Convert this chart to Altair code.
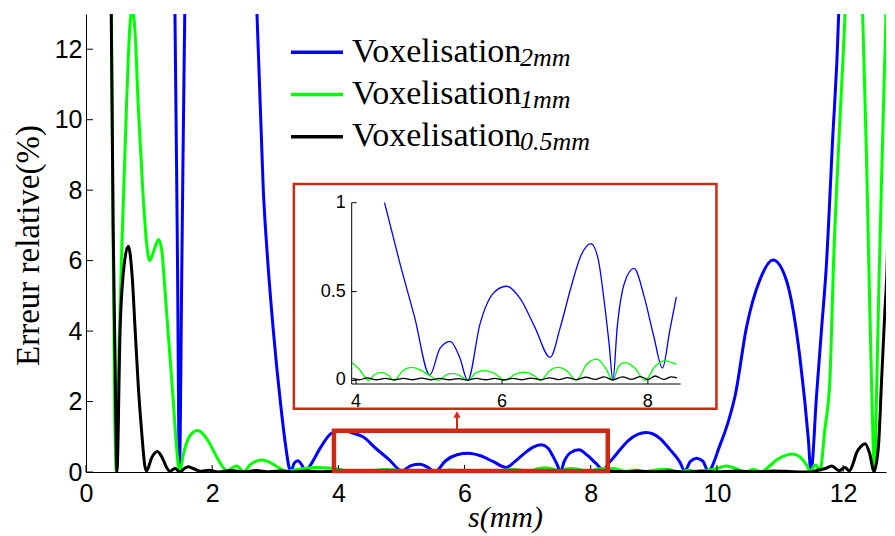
import altair as alt
import pandas as pd

# ---------------- data ----------------
names = ["Voxelisation_2mm", "Voxelisation_1mm", "Voxelisation_0.5mm"]
colors = ["#0000ff", "#00ff00", "#000000"]
legend_main = ["Voxelisation", "Voxelisation", "Voxelisation"]
legend_sub = ["2mm", "1mm", "0.5mm"]

blue = [(1.39, 15), (1.41, 13), (1.45, 6), (1.48, 0), (1.52, 6), (1.565, 13), (1.60, 15),
        (2.68, 15), (2.71, 13), (2.81, 8), (2.88, 6), (2.97, 4), (3.08, 2), (3.16, 0.8),
        (3.22, 0.12), (3.25, 0.02), (3.30, 0.25), (3.36, 0.32), (3.42, 0.2), (3.48, 0.02),
        (3.56, 0.2), (3.71, 0.67), (3.89, 1.1), (4.05, 1.18), (4.2, 1.12), (4.39, 1.0),
        (4.6, 0.66), (4.8, 0.36), (5.01, 0.03), (5.15, 0.18), (5.29, 0.22), (5.42, 0.13),
        (5.53, 0.0), (5.7, 0.32), (5.88, 0.49), (6.06, 0.53), (6.25, 0.46), (6.45, 0.3),
        (6.66, 0.13), (6.8, 0.3), (6.95, 0.53), (7.08, 0.7), (7.22, 0.77), (7.32, 0.68),
        (7.40, 0.45), (7.47, 0.2), (7.52, 0.0), (7.58, 0.3), (7.68, 0.55), (7.81, 0.63),
        (7.95, 0.47), (8.08, 0.25), (8.20, 0.07), (8.30, 0.28), (8.39, 0.47), (8.6, 0.9),
        (8.88, 1.12), (9.1, 0.95), (9.25, 0.65), (9.41, 0.29), (9.49, 0.03), (9.58, 0.3),
        (9.68, 0.39), (9.78, 0.3), (9.86, 0.03), (10.05, 0.77), (10.18, 1.43), (10.29, 2.18),
        (10.47, 4.12), (10.68, 5.45), (10.89, 6.02), (11.10, 5.45), (11.32, 3.18),
        (11.45, 0.91), (11.49, 0.0), (11.58, 2.2), (11.66, 4.1), (11.73, 5.73), (11.83, 9.3),
        (11.93, 13), (11.96, 15)]

green = [(0.40, 14), (0.48, 0), (0.53, 4.0), (0.57, 6.5), (0.64, 10.3), (0.69, 12.5),
         (0.735, 13.15), (0.78, 12.4), (0.83, 10.3), (0.90, 8.0), (0.96, 6.5), (1.01, 6.0),
         (1.08, 6.3), (1.15, 6.6), (1.20, 6.3), (1.25, 5.2), (1.30, 4.0), (1.38, 2.1),
         (1.44, 0.6), (1.48, 0.0), (1.55, 0.55), (1.62, 0.95), (1.70, 1.13), (1.77, 1.18),
         (1.87, 1.05), (1.96, 0.81), (2.10, 0.34), (2.24, 0.03), (2.32, 0.12), (2.39, 0.17),
         (2.45, 0.08), (2.50, 0.0), (2.60, 0.2), (2.70, 0.31), (2.78, 0.34), (2.88, 0.3),
         (3.03, 0.15), (3.18, 0.02), (3.30, 0.06), (3.45, 0.1), (3.62, 0.13), (3.78, 0.12),
         (3.95, 0.10), (4.05, 0.06), (4.17, 0.0), (4.26, 0.035), (4.35, 0.045), (4.44, 0.03),
         (4.52, 0.0), (4.64, 0.055), (4.76, 0.073), (4.9, 0.055), (5.02, 0.025), (5.13, 0.0),
         (5.23, 0.03), (5.33, 0.04), (5.43, 0.025), (5.53, 0.0), (5.65, 0.045), (5.77, 0.055),
         (5.9, 0.04), (6.04, 0.0), (6.18, 0.035), (6.32, 0.047), (6.43, 0.03), (6.53, 0.0),
         (6.65, 0.055), (6.77, 0.073), (6.9, 0.05), (7.02, 0.0), (7.16, 0.09), (7.30, 0.12),
         (7.42, 0.07), (7.52, 0.0), (7.60, 0.08), (7.68, 0.10), (7.82, 0.07), (7.96, 0.0),
         (8.10, 0.08), (8.23, 0.11), (8.39, 0.09), (8.55, 0.02), (8.70, 0.06), (8.85, 0.0),
         (9.0, 0.05), (9.2, 0.08), (9.4, 0.0), (9.55, 0.05), (9.7, 0.0), (9.85, 0.05),
         (10.0, 0.1), (10.15, 0.17), (10.3, 0.1), (10.45, 0.0), (10.58, 0.08), (10.7, 0.0),
         (10.82, 0.15), (10.95, 0.35), (11.1, 0.48), (11.21, 0.51), (11.32, 0.42),
         (11.42, 0.2), (11.49, 0.0), (11.53, 0.15), (11.57, 0.2), (11.63, 0.0), (11.71, 1.2),
         (11.79, 2.6), (11.85, 6.0), (11.95, 10.0), (12.03, 13), (12.07, 15), (12.27, 15),
         (12.31, 13), (12.37, 9), (12.41, 5.7), (12.45, 2.6), (12.50, 0.0), (12.53, 2.2),
         (12.57, 5.5), (12.62, 9), (12.68, 13), (12.72, 15), (12.80, 16)]

black = [(0.38, 15), (0.40, 13), (0.43, 7.0), (0.46, 3.3), (0.49, 0.0), (0.54, 4.0),
         (0.60, 5.8), (0.67, 6.41), (0.73, 5.6), (0.78, 4.0), (0.83, 2.4), (0.88, 1.19),
         (0.935, 0.15), (0.96, 0.03), (1.04, 0.4), (1.13, 0.58), (1.21, 0.4), (1.28, 0.12),
         (1.33, 0.02), (1.41, 0.1), (1.49, 0.0), (1.56, 0.1), (1.62, 0.15), (1.70, 0.1),
         (1.81, 0.02), (1.95, 0.05), (2.1, 0.0), (2.3, 0.04), (2.5, 0.01), (2.7, 0.04),
         (2.9, 0.01), (3.1, 0.03), (3.3, 0.0), (3.5, 0.025), (3.7, 0.005), (3.82, 0.015),
         (3.95, 0.012), (4.05, 0.004), (4.15, 0.015), (4.28, 0.004), (4.4, 0.012),
         (4.52, 0.003), (4.65, 0.012), (4.78, 0.004), (4.9, 0.013), (5.02, 0.004),
         (5.15, 0.012), (5.28, 0.004), (5.4, 0.01), (5.53, 0.002), (5.65, 0.012),
         (5.78, 0.004), (5.9, 0.012), (6.02, 0.004), (6.15, 0.012), (6.28, 0.004),
         (6.4, 0.013), (6.53, 0.004), (6.65, 0.015), (6.78, 0.005), (6.9, 0.016),
         (7.02, 0.005), (7.15, 0.018), (7.28, 0.006), (7.4, 0.02), (7.52, 0.003),
         (7.65, 0.02), (7.78, 0.006), (7.9, 0.022), (8.0, 0.005), (8.1, 0.025),
         (8.22, 0.006), (8.32, 0.02), (8.4, 0.015), (8.55, 0.005), (8.75, 0.03),
         (9.0, 0.005), (9.25, 0.03), (9.5, 0.0), (9.75, 0.03), (10.0, 0.005), (10.3, 0.03),
         (10.6, 0.005), (10.9, 0.03), (11.2, 0.01), (11.49, 0.0), (11.6, 0.05), (11.72, 0.1),
         (11.82, 0.17), (11.94, 0.04), (12.03, 0.13), (12.1, 0.03), (12.16, 0.25),
         (12.21, 0.53), (12.28, 0.72), (12.35, 0.8), (12.42, 0.53), (12.49, 0.02),
         (12.56, 0.72), (12.61, 2.6), (12.66, 4.5), (12.70, 6.0), (12.72, 7.7), (12.75, 8.8),
         (12.78, 9.4), (12.80, 9.6)]

x_ticks = [0, 2, 4, 6, 8, 10, 12]
y_ticks = [0, 2, 4, 6, 8, 10, 12]
inset_x_ticks = [4, 6, 8]
inset_y_ticks = [0, 0.5, 1]

zoom_box = {"s": [3.93], "s2": [8.27], "e": [0.03], "e2": [1.17]}
arrow = {"s": [5.88], "e": [1.17], "e2": [1.55], "head": [1.63]}
inset_frame = {"s": [3.147], "s2": [8.94], "e": [-0.159], "e2": [1.105]}
inset_x_lim = [3.94, 8.45]
inset_y_lim = [-0.02, 1.0]

# ---------------- tables ----------------
rows = []
for n, series in zip(names, [blue, green, black]):
    for s, e in series:
        rows.append({"serie": n, "s": s, "e": e})
df = pd.DataFrame(rows)
legend_df = pd.DataFrame({"serie": names, "label": legend_main, "sub": legend_sub,
                          "i": list(range(len(names)))})
inset_axes_df = pd.DataFrame({
    "s": [inset_x_lim[0], inset_x_lim[0]], "s2": [inset_x_lim[1], inset_x_lim[0]],
    "e": [inset_y_lim[0], inset_y_lim[0]], "e2": [inset_y_lim[0], inset_y_lim[1]],
})

RED = "#cc2a14"
SANS = "Liberation Sans"
SERIF = "Liberation Serif"

CS = alt.Scale(domain=names, range=colors)
XS = alt.Scale(domain=[0, 12.68], nice=False, zero=False)
YS = alt.Scale(domain=[0, 13], nice=False)
IXS = alt.Scale(domain=inset_x_lim, range=[265.7, 594.7], nice=False, zero=False)
IYS = alt.Scale(domain=inset_y_lim, range=[370, 188.7], nice=False, zero=False)

common_axis = dict(grid=False, ticks=False, domainColor="black", domainWidth=1,
                   labelColor="black", labelFont=SANS, labelFlush=False,
                   labelOverlap=False)
xax = alt.Axis(values=x_ticks, orient="bottom", format="d", labelFontSize=25,
               labelPadding=9, title="s(mm)", titleFont=SERIF, titleFontStyle="italic",
               titleFontWeight="normal", titleFontSize=30, titleColor="black",
               titleX=419, titleY=54, titleAlign="center", titleBaseline="alphabetic",
               **common_axis)
yax = alt.Axis(values=y_ticks, orient="left", format="d", labelFontSize=25,
               labelPadding=4, title="Erreur relative(%)", titleFont=SERIF,
               titleFontWeight="normal", titleFontSize=33, titleColor="black",
               titleAngle=270, titleX=-48, titleY=231, titleAlign="center",
               titleBaseline="alphabetic", **common_axis)

color_enc = alt.Color("serie:N", scale=CS, legend=None)

# ---------------- main view ----------------
main_layers = []
for n in names:
    main_layers.append(
        alt.Chart(df).transform_filter(alt.datum.serie == n)
        .mark_line(strokeWidth=3, clip=True, interpolate="monotone")
        .encode(x=alt.X("s:Q", scale=XS, axis=xax), y=alt.Y("e:Q", scale=YS, axis=yax),
                color=color_enc, order="s:Q")
    )

xt = alt.Chart(pd.DataFrame({"s": x_ticks, "e": [0] * len(x_ticks)})).mark_tick(
    orient="vertical", size=7, thickness=1, color="black", yOffset=-3.5, opacity=1
).encode(x=alt.X("s:Q", scale=XS, axis=xax), y=alt.Y("e:Q", scale=YS, axis=yax))
yt = alt.Chart(pd.DataFrame({"s": [0] * len(y_ticks), "e": y_ticks})).mark_tick(
    orient="horizontal", size=7, thickness=1, color="black", xOffset=3.5, opacity=1
).encode(x=alt.X("s:Q", scale=XS, axis=xax), y=alt.Y("e:Q", scale=YS, axis=yax))

box = alt.Chart(pd.DataFrame(zoom_box)).mark_rect(
    fillOpacity=0, stroke=RED, strokeWidth=4.5
).encode(x=alt.X("s:Q", scale=XS, axis=xax), x2="s2:Q",
         y=alt.Y("e:Q", scale=YS, axis=yax), y2="e2:Q")

arrow_df = pd.DataFrame(arrow)
arrow_line = alt.Chart(arrow_df).mark_rule(color=RED, strokeWidth=2).encode(
    x=alt.X("s:Q", scale=XS, axis=xax), y=alt.Y("e:Q", scale=YS, axis=yax), y2="e2:Q")
arrow_head = alt.Chart(arrow_df).mark_point(
    shape="triangle-up", filled=True, color=RED, size=55, opacity=1
).encode(x=alt.X("s:Q", scale=XS, axis=xax), y=alt.Y("head:Q", scale=YS, axis=yax))

leg_line = alt.Chart(legend_df).transform_calculate(ly="38.3 + 42.2 * datum.i").mark_rule(
    strokeWidth=3.5
).encode(x=alt.value(205), x2=alt.value(257), y=alt.Y("ly:Q", scale=None, axis=None),
         color=color_enc)
leg_text = alt.Chart(legend_df).transform_calculate(ty="48 + 42.2 * datum.i").mark_text(
    align="left", baseline="alphabetic", font=SERIF, fontSize=34, color="black"
).encode(x=alt.value(266), y=alt.Y("ty:Q", scale=None, axis=None), text="label:N")
leg_sub = alt.Chart(legend_df).transform_calculate(sy="52 + 42.2 * datum.i").mark_text(
    align="left", baseline="alphabetic", font=SERIF, fontSize=26, fontStyle="italic",
    color="black"
).encode(x=alt.value(434), y=alt.Y("sy:Q", scale=None, axis=None), text="sub:N")

main = alt.layer(*main_layers, xt, yt, box, arrow_line, arrow_head,
                 leg_line, leg_text, leg_sub)

# ---------------- inset view (axes drawn with marks on the inset scales) ----------------
IX = lambda f="s:Q": alt.X(f, scale=IXS, axis=None)
IY = lambda f="e:Q": alt.Y(f, scale=IYS, axis=None)

frame = alt.Chart(pd.DataFrame(inset_frame)).mark_rect(
    fill="white", stroke=RED, strokeWidth=2.5
).encode(x=IX(), x2="s2:Q", y=IY(), y2="e2:Q")

inset_layers = [frame]
for n in names:
    inset_layers.append(
        alt.Chart(df).transform_filter(alt.datum.serie == n)
        .transform_filter("datum.s >= 3.94 && datum.s <= 8.41 && datum.e <= 1.0001")
        .mark_line(strokeWidth=1.3, interpolate="monotone")
        .encode(x=IX(), y=IY(), color=color_enc, order="s:Q")
    )

inset_domain = alt.Chart(inset_axes_df).mark_rule(color="black", strokeWidth=1).encode(
    x=IX(), x2="s2:Q", y=IY(), y2="e2:Q")
ixt_df = pd.DataFrame({"s": inset_x_ticks, "e": [inset_y_lim[0]] * len(inset_x_ticks)})
iyt_df = pd.DataFrame({"s": [inset_x_lim[0]] * len(inset_y_ticks), "e": inset_y_ticks})
ixt = alt.Chart(ixt_df).mark_tick(
    orient="vertical", size=5, thickness=1, color="black", yOffset=-2.5, opacity=1
).encode(x=IX(), y=IY())
iyt = alt.Chart(iyt_df).mark_tick(
    orient="horizontal", size=5, thickness=1, color="black", xOffset=2.5, opacity=1
).encode(x=IX(), y=IY())
ixl = alt.Chart(ixt_df).mark_text(
    font=SANS, fontSize=18, color="black", align="center", baseline="top", dy=9
).encode(x=IX(), y=IY(), text=alt.Text("s:Q", format="~g"))
iyl = alt.Chart(iyt_df).mark_text(
    font=SANS, fontSize=18, color="black", align="right", baseline="middle", dx=-6
).encode(x=IX(), y=IY(), text=alt.Text("e:Q", format="~g"))

inset_layers += [inset_domain, ixt, iyt, ixl, iyl]
inset = alt.layer(*inset_layers)

chart = alt.layer(main, inset).resolve_scale(
    x="independent", y="independent"
).properties(
    width=800, height=458,
    padding={"left": 78, "top": 6, "right": 1, "bottom": 62},
    autosize=alt.AutoSizeParams(type="none"),
    background="white",
).configure_view(strokeWidth=0)

chart.save("out.html", embed_options={"renderer": "svg", "actions": False})
